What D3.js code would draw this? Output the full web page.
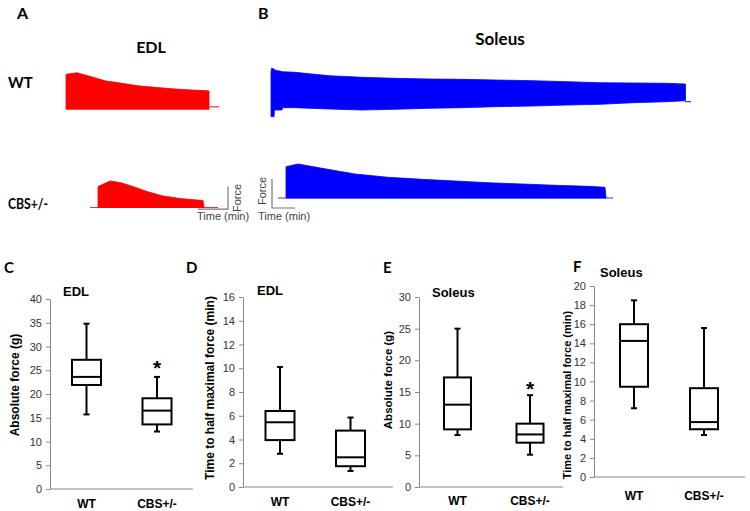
<!DOCTYPE html>
<html><head><meta charset="utf-8">
<script src="https://cdn.jsdelivr.net/npm/d3@7"></script>
<style>
body{margin:0;background:#fff;}
svg{display:block;}
</style></head>
<body>
<svg id="c" width="750" height="511"></svg>
<script>
// ---------- DATA ----------
const categories = ["WT", "CBS+/-"];

// Panel A traces (EDL): time (arb. units), force (arb. units)
const edlWT_t   = [6, 6, 17, 28, 45, 62, 78, 95, 112, 128, 148, 149, 149];
const edlWT_f   = [0, 35, 36.5, 33.5, 28.5, 26, 23.5, 22, 20.5, 19.5, 18.5, 18.5, 0];
const edlCBS_t  = [38, 38, 50, 60, 70, 87, 103, 120, 143, 144];
const edlCBS_f  = [0, 21, 26.5, 25, 22, 16, 11.5, 9, 7, 0];

// Panel B traces (Soleus): time, upper and lower envelopes of force
const solWT_t   = [1, 1.5, 4, 4.5, 12, 12.5, 25, 59, 92, 125, 159, 192, 225, 263, 297, 330, 363, 397, 415, 415.5];
const solWT_hi  = [38, 41.7, 41, 40, 38.5, 38.3, 37.7, 34.3, 32.7, 31.7, 31, 30.7, 30, 29.3, 28.3, 27.3, 27, 26.7, 26, 26];
const solWT_lo  = [-6.7, -6.7, -6.7, 0, 0, 2.3, 2.3, 1, 0, 0.7, 1.7, 2.3, 3.3, 4, 5, 5.7, 7.3, 8.3, 9.3, 9.3];
const solCBS_t  = [16, 16, 28, 52, 85, 118, 152, 185, 218, 252, 285, 318, 335, 336];
const solCBS_f  = [0, 31.3, 34, 29.7, 24, 20.7, 18.7, 17, 15.3, 14, 12.7, 11.7, 10.7, 0];

// Box plot stats: [min, Q1, median, Q3, max]
const edlForceWT  = [15.7, 21.9, 23.6, 27.2, 34.8];
const edlForceCBS = [12.1, 13.6, 16.5, 19.1, 23.6];
const edlHalfWT   = [2.8, 3.95, 5.45, 6.4, 10.1];
const edlHalfCBS  = [1.35, 1.75, 2.5, 4.75, 5.85];
const solForceWT  = [8.2, 9.1, 13.0, 17.3, 25.0];
const solForceCBS = [5.1, 7.0, 8.3, 10.0, 14.5];
const solHalfWT   = [7.2, 9.45, 14.25, 16.0, 18.5];
const solHalfCBS  = [4.4, 5.0, 5.75, 9.3, 15.6];

const ticksForceEDL = [0, 5, 10, 15, 20, 25, 30, 35, 40];
const ticksHalfEDL  = [0, 2, 4, 6, 8, 10, 12, 14, 16];
const ticksForceSol = [0, 5, 10, 15, 20, 25, 30];
const ticksHalfSol  = [0, 2, 4, 6, 8, 10, 12, 14, 16, 18, 20];

// ---------- DRAW ----------
const svg = d3.select("#c");
const ARIAL = "'Liberation Sans', Arial, sans-serif";
const CAL = "Lato, 'Open Sans', sans-serif";

function txt(x, y, s, size, opts = {}) {
  const t = svg.append("text").attr("x", x).attr("y", y).text(s)
    .attr("font-family", opts.family || ARIAL)
    .attr("font-size", size)
    .attr("font-weight", opts.weight || "normal")
    .attr("fill", opts.fill || "#000")
    .attr("text-anchor", opts.anchor || "start");
  if (opts.rotate) t.attr("transform", `rotate(-90,${x},${y})`);
  if (opts.len) t.attr("textLength", opts.len).attr("lengthAdjust", "spacingAndGlyphs");
  return t;
}

// Panel letters & headings (top)
txt(17, 19, "A", 16, {family: CAL, weight: "bold"});
txt(258, 19, "B", 16, {family: CAL, weight: "bold"});
txt(151, 53, "EDL", 16, {family: CAL, weight: "bold", anchor: "middle"});
txt(500, 45, "Soleus", 17, {family: CAL, weight: "bold", anchor: "middle"});
txt(8, 88, "WT", 15, {family: CAL, weight: "bold"});
txt(8, 209, "CBS+/-", 15, {family: CAL, weight: "bold", len: 40});

// Panel A traces
const xA = d3.scaleLinear().domain([0, 160]).range([60, 220]);
const fA1 = d3.scaleLinear().domain([0, 40]).range([109.3, 69.3]);
const fA2 = d3.scaleLinear().domain([0, 40]).range([207.5, 167.5]);
const red = "#ff0000";

function traceArea(ts, fs, xs, ys, color) {
  const pts = ts.map((t, i) => [t, fs[i]]);
  svg.append("path").datum(pts)
    .attr("d", d3.area().x(d => xs(d[0])).y0(ys(0)).y1(d => ys(d[1])))
    .attr("fill", color).attr("stroke", color).attr("stroke-width", 0.8);
}
function baseLine(t0, t1, f, xs, ys, color) {
  svg.append("line").attr("x1", xs(t0)).attr("x2", xs(t1))
    .attr("y1", ys(f)).attr("y2", ys(f))
    .attr("stroke", color).attr("stroke-width", 1.2).attr("opacity", 0.8);
}
traceArea(edlWT_t, edlWT_f, xA, fA1, red);
baseLine(149, 159, 2.5, xA, fA1, red);
baseLine(30, 158, 0, xA, fA2, red);
traceArea(edlCBS_t, edlCBS_f, xA, fA2, red);

// Panel B traces
const xB = d3.scaleLinear().domain([0, 430]).range([270, 700]);
const fB1 = d3.scaleLinear().domain([0, 40]).range([110, 70]);
const fB2 = d3.scaleLinear().domain([0, 40]).range([198, 158]);
const blue = "#0000ff";
{
  const pts = solWT_t.map((t, i) => [t, solWT_lo[i], solWT_hi[i]]);
  svg.append("path").datum(pts)
    .attr("d", d3.area().x(d => xB(d[0])).y0(d => fB1(d[1])).y1(d => fB1(d[2])))
    .attr("fill", blue).attr("stroke", blue).attr("stroke-width", 0.8);
  baseLine(415, 421, 8.3, xB, fB1, blue);
}
baseLine(8, 343, 0, xB, fB2, blue);
traceArea(solCBS_t, solCBS_f, xB, fB2, blue);

// Scale bars
const gray = "#777";
function scaleBar(xv, y0, y1, xh0) {
  svg.append("path")
    .attr("d", `M${xv},${y0}V${y1}H${xh0}`)
    .attr("fill", "none").attr("stroke", gray).attr("stroke-width", 1.2);
}
scaleBar(xA(168), fA2(21), fA2(-1.7), xA(138));
txt(241, 198, "Force", 11, {fill: "#444", anchor: "middle", rotate: true});
txt(197, 220, "Time  (min)", 11, {fill: "#444"});
scaleBar(xB(2), fB2(19), fB2(-10), xB(25));
txt(266, 191, "Force", 11, {fill: "#444", anchor: "middle", rotate: true});
txt(258, 220, "Time  (min)", 11, {fill: "#444"});

// ---------- Box plots ----------
function boxPanel(cfg) {
  const y = d3.scaleLinear().domain(cfg.domain).range(cfg.yRange);
  const x = d3.scalePoint().domain(categories).range(cfg.xRange);
  const g = svg.append("g");
  const ax = g.append("g").attr("transform", `translate(${cfg.axisX},0)`)
    .call(d3.axisLeft(y).tickValues(cfg.ticks).tickSize(4).tickSizeOuter(0).tickPadding(4));
  ax.select(".domain").attr("stroke", "#888");
  ax.selectAll(".tick line").attr("stroke", "#888");
  ax.selectAll(".tick text").attr("font-family", ARIAL).attr("font-size", cfg.tickSize || 11).attr("fill", "#333");
  g.append("line").attr("x1", cfg.axisX).attr("x2", cfg.axisEnd)
    .attr("y1", y(cfg.domain[0])).attr("y2", y(cfg.domain[0]))
    .attr("stroke", "#888").attr("stroke-width", 1);
  categories.forEach(c => {
    txt(x(c) + (cfg.labelDx || 0), cfg.labelY, c, 12, {weight: "bold", anchor: "middle"});
  });
  const w = cfg.boxW, cap = 3;
  cfg.stats.forEach((s, i) => {
    const cx = x(categories[i]);
    const bg = g.append("g").attr("stroke", "#000").attr("stroke-width", 2).attr("fill", "none");
    bg.append("line").attr("x1", cx).attr("x2", cx).attr("y1", y(s[4])).attr("y2", y(s[3]));
    bg.append("line").attr("x1", cx).attr("x2", cx).attr("y1", y(s[1])).attr("y2", y(s[0]));
    bg.append("line").attr("x1", cx - cap).attr("x2", cx + cap).attr("y1", y(s[4])).attr("y2", y(s[4]));
    bg.append("line").attr("x1", cx - cap).attr("x2", cx + cap).attr("y1", y(s[0])).attr("y2", y(s[0]));
    bg.append("rect").attr("x", cx - w / 2).attr("y", y(s[3]))
      .attr("width", w).attr("height", y(s[1]) - y(s[3])).attr("fill", "#fff");
    bg.append("line").attr("x1", cx - w / 2).attr("x2", cx + w / 2).attr("y1", y(s[2])).attr("y2", y(s[2]));
  });
  if (cfg.star) {
    txt(x(categories[1]), y(cfg.star), "*", 21, {weight: "bold", anchor: "middle"});
  }
  txt(cfg.titleX, cfg.titleY, cfg.title, 13, {weight: "bold"});
  txt(cfg.letterX, cfg.letterY, cfg.letter, 15, {family: CAL, weight: "bold"});
  txt(cfg.ylabX, cfg.ylabY, cfg.ylab, cfg.ylabSize, {weight: "bold", anchor: "middle", rotate: true});
}

boxPanel({
  domain: [0, 40], yRange: [489, 299], ticks: ticksForceEDL, axisX: 50, axisEnd: 193,
  xRange: [86.5, 157], boxW: 29, labelY: 508, stats: [edlForceWT, edlForceCBS], star: 24,
  title: "EDL", titleX: 63, titleY: 296, letter: "C", letterX: 4, letterY: 273,
  ylab: "Absolute force (g)", ylabX: 19, ylabY: 385, ylabSize: 12
});
boxPanel({
  domain: [0, 16], yRange: [487, 297], ticks: ticksHalfEDL, axisX: 243, axisEnd: 393,
  xRange: [280, 350.5], boxW: 29, labelY: 506, stats: [edlHalfWT, edlHalfCBS],
  title: "EDL", titleX: 257, titleY: 295, letter: "D", letterX: 186, letterY: 273,
  ylab: "Time to half maximal force (min)", ylabX: 214, ylabY: 388, ylabSize: 12
});
boxPanel({
  domain: [0, 30], yRange: [487, 297], ticks: ticksForceSol, axisX: 419, axisEnd: 563,
  xRange: [457.5, 530], boxW: 27, labelY: 505, stats: [solForceWT, solForceCBS], star: 14.4,
  title: "Soleus", titleX: 432, titleY: 297, letter: "E", letterX: 383, letterY: 273,
  ylab: "Absolute force (g)", ylabX: 392, ylabY: 380, ylabSize: 11.5
});
boxPanel({
  domain: [0, 20], yRange: [477, 286], ticks: ticksHalfSol, axisX: 594, axisEnd: 745,
  xRange: [634, 704], boxW: 28, labelY: 500, stats: [solHalfWT, solHalfCBS],
  title: "Soleus", titleX: 600, titleY: 277, letter: "F", letterX: 573, letterY: 272,
  ylab: "Time to half maximal force (min)", ylabX: 571, ylabY: 395, ylabSize: 11
});
</script>
</body></html>
